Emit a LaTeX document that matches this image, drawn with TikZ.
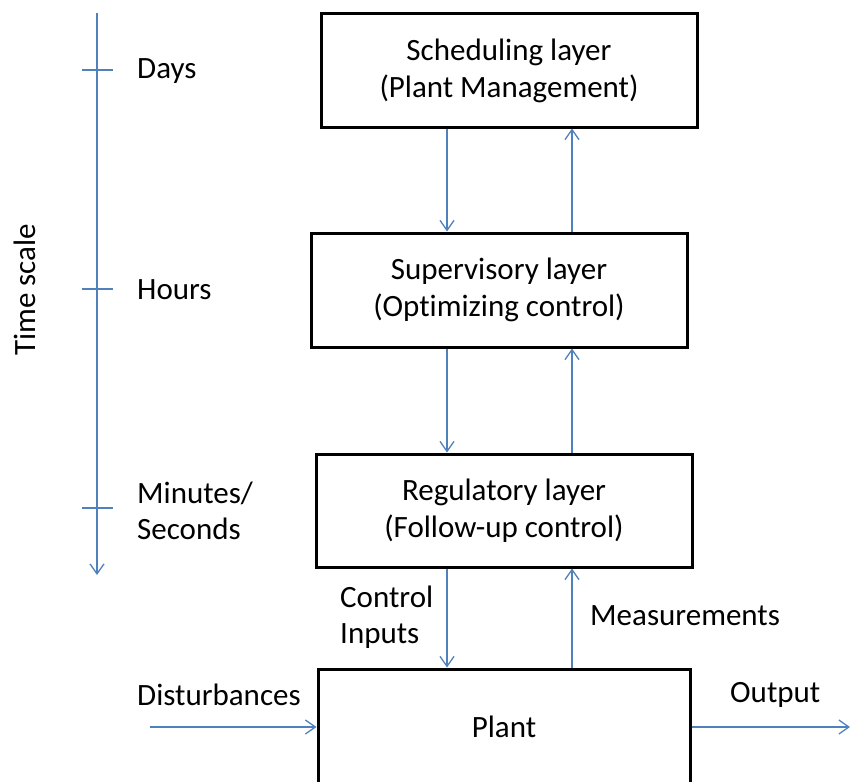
\documentclass[tikz,border=0pt]{standalone}
\usepackage{fontspec}
\setmainfont{Carlito}[Ligatures=NoCommon]
\usetikzlibrary{arrows.meta}
\definecolor{lineblue}{RGB}{79,129,189}
\tikzset{
  layerbox/.style={draw=black, line width=3pt, minimum width=376pt, inner sep=0pt, align=center,
    font=\fontsize{31}{37}\selectfont},
  arr/.style={draw=lineblue, line width=1.3pt, -{Straight Barb[length=10pt,width=14pt,line width=1.3pt]}},
  axis/.style={draw=lineblue, line width=1.3pt},
  lbl/.style={font=\fontsize{31}{36}\selectfont, inner sep=0pt, align=left}
}
\begin{document}
\begin{tikzpicture}[x=1pt,y=-1pt]
\useasboundingbox (0,0) rectangle (850,781);
% boxes
\node[layerbox, minimum height=113pt] (sched) at (509,70.5) {Scheduling layer\\(Plant Management)};
\node[layerbox, minimum height=114pt] (super) at (499,290) {Supervisory layer\\(Optimizing control)};
\node[layerbox, minimum height=113pt] (regul) at (504,510.5) {Regulatory layer\\(Follow-up control)};
\node[layerbox, minimum width=372pt, minimum height=116pt] (plant) at (504,727) {Plant};
% x positions of vertical connectors
\coordinate (xd) at (447,0);
\coordinate (xu) at (572,0);
\draw[arr] (sched.south -| xd) -- (super.north -| xd);
\draw[arr] (super.north -| xu) -- (sched.south -| xu);
\draw[arr] (super.south -| xd) -- (regul.north -| xd);
\draw[arr] (regul.north -| xu) -- (super.south -| xu);
\draw[arr] (regul.south -| xd) -- (plant.north -| xd);
\draw[arr] (plant.north -| xu) -- (regul.south -| xu);
% disturbances / output
\coordinate (din) at (150,727);
\coordinate (dout) at (850,727);
\draw[arr] (din) -- (plant.west);
\draw[arr] (plant.east) -- (dout);
% time axis
\coordinate (ttop) at (97,13);
\coordinate (tbot) at (97,575);
\draw[axis, -{Straight Barb[length=10pt,width=14pt,line width=1.3pt]}] (ttop) -- (tbot);
\coordinate (t1) at (97,70);
\coordinate (t2) at (97,289);
\coordinate (t3) at (97,508);
\draw[axis] ([xshift=-15pt]t1) -- ([xshift=16pt]t1);
\draw[axis] ([xshift=-15pt]t2) -- ([xshift=16pt]t2);
\draw[axis] ([xshift=-15pt]t3) -- ([xshift=16pt]t3);
% labels
\node[lbl, anchor=west] (days) at (137,71) {Days};
\node[lbl, anchor=west] (hours) at (137,290) {Hours};
\node[lbl, anchor=west] (mins) at (137,511) {Minutes/\\Seconds};
\node[lbl, rotate=90] (tscale) at (25,290) {Time scale};
\node[lbl, anchor=west] (ctrl) at (340,617) {Control\\Inputs};
\node[lbl, anchor=west] (meas) at (590,616) {Measurements};
\node[lbl, anchor=west] (dist) at (137,695) {Disturbances};
\node[lbl, anchor=west] (outp) at (730,695) {Output};
\end{tikzpicture}
\end{document}
